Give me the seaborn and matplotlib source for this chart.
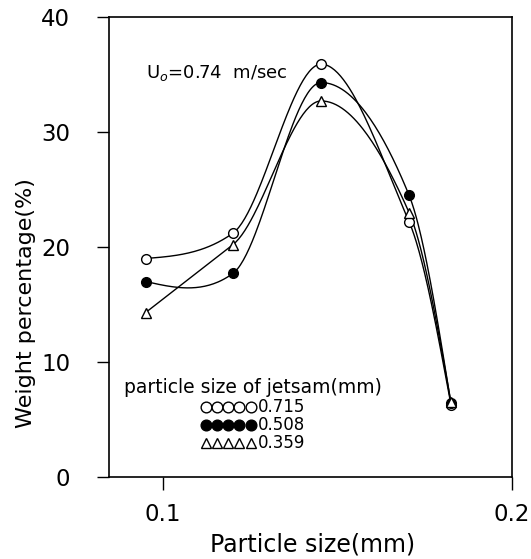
import numpy as np
import pandas as pd
import matplotlib
matplotlib.use("Agg")
import matplotlib.pyplot as plt
import seaborn as sns
from matplotlib.lines import Line2D

# Data
particle_size = [0.095, 0.120, 0.1453, 0.1705, 0.1825]
w_0715 = [19.0, 21.2, 35.9, 22.2, 6.3]
w_0508 = [17.0, 17.7, 34.3, 24.5, 6.4]
w_0359 = [14.3, 20.2, 32.7, 23.0, 6.5]
jetsam_labels = ["0.715", "0.508", "0.359"]
x_ticks = [0.1, 0.2]
y_ticks = [0, 10, 20, 30, 40]


def hermite_curve(x, y, n=60, tension=0.65):
    """Smooth curve through the points (cubic Hermite, drawing only)."""
    x = np.asarray(x, float); y = np.asarray(y, float)
    k = len(x)
    h = np.diff(x); d = np.diff(y) / h
    t = np.zeros(k)
    for i in range(1, k - 1):
        if (y[i] - y[i - 1]) * (y[i + 1] - y[i]) < 0:
            t[i] = 0.0
        else:
            t[i] = tension * (h[i] * d[i - 1] + h[i - 1] * d[i]) / (h[i - 1] + h[i])
    t[0] = (3 * d[0] - t[1]) / 2
    t[-1] = (3 * d[-1] - t[-2]) / 2
    xs_all, ys_all = [], []
    for i in range(k - 1):
        s = np.linspace(0, 1, n)
        h00 = 2 * s**3 - 3 * s**2 + 1
        h10 = s**3 - 2 * s**2 + s
        h01 = -2 * s**3 + 3 * s**2
        h11 = s**3 - s**2
        xs_all.append(x[i] + s * h[i])
        ys_all.append(h00 * y[i] + h10 * h[i] * t[i] + h01 * y[i + 1] + h11 * h[i] * t[i + 1])
    return np.concatenate(xs_all), np.concatenate(ys_all)


sns.set_theme(style="white")
plt.rcParams["font.family"] = ["DejaVu Sans"]

fig = plt.figure(figsize=(5.31, 5.59), dpi=100)
ax = fig.add_axes([109 / 531, 82 / 559, 403 / 531, 460 / 559])

series = [(w_0715, "o", "white"), (w_0508, "o", "black"), (w_0359, "^", "white")]
handles = []
for vals, m, fc in series:
    xs, ys = hermite_curve(particle_size, vals)
    sns.lineplot(x=xs, y=ys, ax=ax, color="black", lw=1.0, sort=False)
    df = pd.DataFrame({"x": particle_size, "y": vals})
    ax.plot(df["x"], df["y"], ls="none", marker=m, ms=7 if m == "o" else 6.5,
            mfc=fc, mec="black", mew=1.0, zorder=3)
for (vals, m, fc), lab in zip(series, jetsam_labels):
    handles.append(Line2D([], [], ls="none", marker=m, ms=7 if m == "o" else 6.5,
                          mfc=fc, mec="black", mew=1.0, label=lab))

ax.set_xlim(0.0845, 0.2)
ax.set_ylim(0, 40)
ax.set_xticks(x_ticks)
ax.set_xticklabels(["0.1", "0.2"])
ax.set_yticks(y_ticks)
ax.tick_params(direction="out", length=9, width=1, labelsize=16.5, colors="black",
               bottom=True, left=True)
ax.tick_params(axis="y", pad=19)
ax.tick_params(axis="x", pad=10)
for s in ax.spines.values():
    s.set_color("black"); s.set_linewidth(1.2); s.set_visible(True)
ax.set_xlabel("Particle size(mm)", fontsize=17, color="black", va="center")
ax.set_ylabel("Weight percentage(%)", fontsize=16, color="black", va="center")
ax.xaxis.set_label_coords(0.504, -0.146)
ax.yaxis.set_label_coords(-0.206, 0.378)

ax.text(0.0952, 35.1, r"U$_o$=0.74  m/sec", fontsize=13, color="black", va="center")

leg = ax.legend(handles=handles, title="particle size of jetsam(mm)", loc="lower left",
                bbox_to_anchor=(0.0, 0.021), frameon=False, numpoints=5,
                handlelength=3.3, handletextpad=0.15, labelspacing=0.0,
                fontsize=12, title_fontsize=13.5, markerscale=1.1,
                labelcolor="black")
leg.get_title().set_color("black")
leg._legend_box.align = "center"
leg._legend_box.sep = 1

fig.savefig("out.png", dpi=100)
